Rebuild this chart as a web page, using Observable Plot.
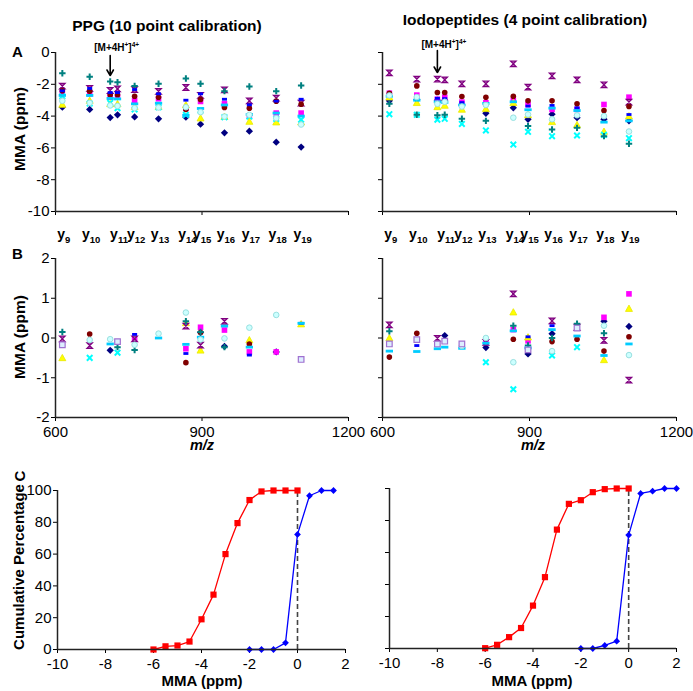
<!DOCTYPE html>
<html><head><meta charset="utf-8">
<script src="https://cdn.jsdelivr.net/npm/d3@7"></script>
<script src="https://cdn.jsdelivr.net/npm/@observablehq/plot@0.6"></script>
<style>
body{margin:0;background:#fff;font-family:"Liberation Sans",Arial,sans-serif;}
#root{position:relative;width:693px;height:691px;overflow:hidden;background:#fff;}
#root svg{position:absolute;overflow:visible;}
</style></head><body><div id="root"></div>
<script>
// ---------- DATA ----------
// fragment m/z positions (column 3 = precursor [M+4H+]4+)
const mz = [614, 670, 712, 727, 762, 811, 867, 897, 946, 997, 1052, 1103];
const ionLabels = ["9","10","11","12","13","14","15","16","17","18","19"];
const ionColumns = [0, 1, 3, 4, 5, 6, 7, 8, 9, 10, 11];
const precursorMz = 712;
const titles = ["PPG (10 point calibration)", "Iodopeptides (4 point calibration)"];

// series order: navy diamond, magenta square, yellow triangle, cyan x, purple star,
// dark red circle, teal plus, blue dash, sky dash, light turquoise circle, lavender open square
const ppgAbsolute = [
  [-3.44,-3.58,-4.09,-3.92,-4.05,-4.17,-4.07,-4.51,-5.05,-4.95,-5.64,-5.95],
  [-2.56,-2.6,-2.81,-2.81,-3.02,-2.91,-3.5,-3.08,-3.23,-3.98,-3.81,-3.81],
  [-3.27,-3.02,-3.23,-3.23,-3.4,-3.4,-3.3,-4.13,-4.03,-4.34,-4.38,-4.38],
  [-2.75,-3.21,-3.17,-3.5,-3.58,-3.45,-3.92,-3.65,-4.07,-4.03,-4.17,-4.23],
  [-2.12,-2.26,-2.39,-2.29,-2.33,-2.45,-2.2,-2.7,-2.35,-3.04,-2.87,-3.19],
  [-2.41,-2.43,-2.66,-2.66,-2.75,-2.81,-3.58,-2.96,-3.46,-3.5,-3.06,-3.25],
  [-1.3,-1.53,-1.82,-1.87,-2.1,-1.97,-1.64,-1.97,-2.43,-2.14,-2.43,-2.08],
  [-2.41,-2.26,-2.52,-2.52,-2.33,-2.6,-3.0,-2.6,-2.94,-3.29,-3.06,-2.94],
  [-2.7,-2.7,-2.89,-2.92,-3.23,-3.19,-3.95,-3.52,-3.3,-3.9,-3.81,-4.0],
  [-3.04,-3.17,-3.33,-3.36,-3.5,-3.46,-3.44,-3.75,-4.03,-3.92,-4.13,-4.53],
  [null,null,null,null,null,null,null,null,null,null,null,null]
];
const iodoAbsolute = [
  [-3.04,-2.95,-3.0,-3.0,-3.3,-3.82,-3.48,-4.2,-3.88,-4.1,-4.2,-4.3],
  [-2.56,-2.68,-2.94,-2.81,-3.12,-3.16,-3.0,-3.27,-3.58,-3.58,-3.27,-2.81],
  [-2.81,-3.16,-3.42,-3.33,-3.58,-3.54,-3.16,-3.92,-4.36,-4.55,-4.97,-4.0],
  [-3.88,-3.92,-4.23,-4.17,-4.49,-4.9,-5.79,-4.99,-5.26,-5.22,-5.18,-5.39],
  [-1.28,-1.68,-1.68,-1.72,-1.97,-1.97,-0.71,-2.18,-1.47,-1.72,-2.03,-3.12],
  [-2.56,-2.1,-2.52,-2.52,-2.77,-2.81,-2.75,-3.04,-3.04,-3.23,-3.65,-3.4],
  [-3.23,-3.92,-3.95,-3.92,-4.17,-4.3,null,-4.63,-4.84,-4.74,-5.26,-5.74],
  [-2.65,-2.9,-2.88,-2.9,-3.15,-3.2,null,-3.37,-3.33,-3.48,null,-3.9],
  [-2.75,-3.0,-3.1,-3.14,-3.3,-3.2,-3.1,-3.6,-3.5,-3.65,-4.38,-4.3],
  [-2.7,-2.8,-3.23,-3.1,-3.4,-3.3,-4.1,-3.9,-4.2,-3.95,-4.0,-4.97],
  [null,null,null,null,null,null,null,null,null,null,null,null]
];
const ppgRecalibrated = [
  [null,null,-0.31,null,null,null,null,0.14,-0.21,null,-0.35,null],
  [null,null,null,null,-0.02,null,-0.27,0.27,0.2,-0.35,-0.35,null],
  [-0.5,null,null,null,null,null,0.38,-0.31,null,-0.05,null,0.35],
  [null,-0.5,null,-0.37,null,null,null,null,null,null,null,null],
  [-0.02,-0.19,null,null,-0.02,null,0.3,-0.18,0.42,null,null,null],
  [null,0.1,null,null,null,null,-0.62,0.14,null,-0.15,null,null],
  [0.15,null,null,-0.23,-0.3,null,0.42,0.15,-0.23,null,null,null],
  [null,null,null,null,0.09,null,-0.39,null,null,-0.43,null,0.37],
  [null,null,-0.15,null,null,0.0,-0.16,0.02,0.3,-0.23,null,0.37],
  [null,-0.05,-0.03,null,-0.17,0.11,0.64,-0.04,-0.01,0.26,0.58,null],
  [-0.17,null,null,-0.09,null,null,null,null,null,null,null,-0.54]
];
const iodoRecalibrated = [
  [null,null,null,0.06,null,-0.24,null,-0.4,0.11,null,0.42,0.29],
  [null,null,null,null,null,-0.11,0.21,-0.07,null,null,0.52,1.11],
  [0.0,null,null,null,null,null,0.65,0.02,null,null,-0.55,0.74],
  [null,null,null,null,null,-0.61,-1.29,null,-0.44,-0.23,null,null],
  [0.33,null,-0.01,null,null,-0.11,1.11,null,0.43,0.27,-0.06,-1.06],
  [-0.48,0.12,null,null,null,null,-0.03,null,-0.09,-0.03,-0.33,0.03],
  [0.17,null,null,null,null,null,0.31,-0.19,0.0,0.36,0.12,null],
  [null,-0.19,null,null,null,null,null,0.03,0.31,null,null,null],
  [-0.33,-0.34,-0.27,-0.23,-0.26,-0.13,0.18,-0.25,0.21,0.05,-0.44,-0.15],
  [null,null,null,null,-0.2,0.0,-0.61,null,-0.33,null,0.31,-0.43],
  [-0.15,-0.04,-0.15,-0.08,-0.15,null,null,-0.3,null,0.25,null,null]
];

// cumulative distributions (panel C)
const redMMA = [-6,-5.5,-5,-4.5,-4,-3.5,-3,-2.5,-2,-1.5,-1,-0.5,0];
const ppgRedCum = [0,2,2.5,5,19,34.5,60,79.5,94,99.4,100,100,100];
const ppgBlueMMA = [-2,-1.5,-1,-0.5,0,0.5,1,1.5];
const ppgBlueCum = [0,0,0,4.2,72.4,96.7,100,100];
const iodoRedCum = [0.2,2.3,7.1,12.8,26.8,44.6,74.3,90.4,92.7,97.7,99.6,100,100];
const iodoBlueMMA = [-2,-1.5,-1,-0.5,0,0.5,1,1.5,2];
const iodoBlueCum = [0,0,1.9,4.6,70.9,96.9,98.3,100,100];

// precursor arrow (top, tip) and label level, in ppm
const arrowPPG = [-0.19, -1.45, 0.06];
const arrowIodo = [0.13, -1.26, 0.25];

// ---------- STYLES ----------
const rad = s => Math.sqrt(s / Math.PI);
const sym = {
  diamond:{draw(c,s){const r=rad(s)*1.3;c.moveTo(0,-r);c.lineTo(r,0);c.lineTo(0,r);c.lineTo(-r,0);c.closePath();}},
  square:{draw(c,s){const r=rad(s);c.rect(-r,-r,2*r,2*r);}},
  triangle:{draw(c,s){const r=rad(s)*1.25;c.moveTo(0,-r);c.lineTo(r,r*0.8);c.lineTo(-r,r*0.8);c.closePath();}},
  times:{draw(c,s){const r=rad(s);c.moveTo(-r,-r);c.lineTo(r,r);c.moveTo(r,-r);c.lineTo(-r,r);}},
  star:{draw(c,s){const r=rad(s);c.moveTo(-r,-r);c.lineTo(r,-r);c.lineTo(-r,r);c.lineTo(r,r);c.closePath();}},
  circle:{draw(c,s){const r=rad(s);c.moveTo(r,0);c.arc(0,0,r,0,2*Math.PI);}},
  plus:{draw(c,s){const r=rad(s)*1.15;c.moveTo(-r,0);c.lineTo(r,0);c.moveTo(0,-r);c.lineTo(0,r);}},
  dash:{draw(c,s){const r=rad(s);c.rect(-r*0.9,-r*0.5,1.8*r,r);}},
  longDash:{draw(c,s){const r=rad(s);c.rect(-r*1.3,-r*0.5,2.6*r,r);}}
};
const seriesStyles = [
  {symbol:sym.diamond, fill:"#000080", stroke:"none"},
  {symbol:sym.square, fill:"#FF00FF", stroke:"none"},
  {symbol:sym.triangle, fill:"#FFFF00", stroke:"#E8E800", strokeWidth:0.8},
  {symbol:sym.times, fill:"none", stroke:"#00FFFF", strokeWidth:2},
  {symbol:sym.star, fill:"#B060B0", stroke:"#800080", strokeWidth:1.2},
  {symbol:sym.circle, fill:"#800000", stroke:"none"},
  {symbol:sym.plus, fill:"none", stroke:"#008080", strokeWidth:2},
  {symbol:sym.dash, fill:"#0000FF", stroke:"none"},
  {symbol:sym.longDash, fill:"#00CCFF", stroke:"none"},
  {symbol:sym.circle, fill:"#CCFFFF", stroke:"#99E0E0", strokeWidth:1},
  {symbol:sym.square, fill:"#DDEEFF", stroke:"#A070D0", strokeWidth:1.2}
];
const axisColor = "#222";
const FONT = '"Liberation Sans", Arial, sans-serif';

// ---------- BUILD ----------
const root = document.getElementById("root");

function panel(o) {
  const chart = Plot.plot({
    width:o.width, height:o.height,
    marginTop:o.mt, marginRight:o.mr, marginBottom:o.mb, marginLeft:o.ml,
    style:{background:"transparent", fontFamily:FONT, fontSize:"15px", color:"#000", overflow:"visible"},
    x:{domain:o.xdom, ticks:o.xticks, tickSize:4, tickPadding:5, label:null,
       tickFormat:o.xlabels ? (d => String(d)) : (() => "")},
    y:{domain:o.ydom, ticks:o.yticks, tickSize:4, tickPadding:2, label:null,
       tickFormat:o.ylabels ? (d => String(d)) : (() => "")},
    marks:[
      ...o.marks,
      Plot.ruleX([o.xdom[0]], {stroke:axisColor, strokeWidth:1.5}),
      Plot.ruleY([o.ydom[0]], {stroke:axisColor, strokeWidth:1.5})
    ]
  });
  chart.style.left = o.left + "px";
  chart.style.top = o.top + "px";
  root.appendChild(chart);
  return chart;
}

function scatterMarks(table) {
  return table.map((vals, si) => {
    const rows = vals.map((v, ci) => ({mz:mz[ci], v})).filter(d => d.v != null);
    return Plot.dot(rows, {x:"mz", y:"v", r:2.8, ...seriesStyles[si]});
  });
}

function arrowMarks(a) {
  return [Plot.arrow([{x:precursorMz, y1:a[0], y2:a[1]}],
    {x1:"x", x2:"x", y1:"y1", y2:"y2", stroke:"#000", strokeWidth:1.6, headLength:6})];
}

const mzDom = [600, 1200], mzTicks = [600, 900, 1200];
const geoL = {left:0, width:352, ml:55, mr:4};
const geoR = {left:330, width:363, ml:52, mr:17};

const aL = panel({...geoL, top:0, height:230, mt:52, mb:19, xdom:mzDom, xticks:mzTicks, xlabels:false,
  ydom:[-10,0], yticks:[0,-2,-4,-6,-8,-10], ylabels:true,
  marks:[...scatterMarks(ppgAbsolute), ...arrowMarks(arrowPPG)]});
const aR = panel({...geoR, top:0, height:230, mt:52, mb:19, xdom:mzDom, xticks:mzTicks, xlabels:false,
  ydom:[-10,0], yticks:[0,-2,-4,-6,-8,-10], ylabels:false,
  marks:[...scatterMarks(iodoAbsolute), ...arrowMarks(arrowIodo)]});
const bL = panel({...geoL, top:230, height:230, mt:28, mb:43, xdom:mzDom, xticks:mzTicks, xlabels:true,
  ydom:[-2,2], yticks:[2,1,0,-1,-2], ylabels:true, marks:scatterMarks(ppgRecalibrated)});
const bR = panel({...geoR, top:230, height:230, mt:28, mb:43, xdom:mzDom, xticks:mzTicks, xlabels:true,
  ydom:[-2,2], yticks:[2,1,0,-1,-2], ylabels:false, marks:scatterMarks(iodoRecalibrated)});

function cumMarks(redY, blueX, blueY) {
  const red = redMMA.map((x, i) => ({x, y:redY[i]}));
  const blue = blueX.map((x, i) => ({x, y:blueY[i]}));
  return [
    Plot.ruleX([0], {y1:0, y2:100, stroke:"#444", strokeWidth:1.6, strokeDasharray:"5,3"}),
    Plot.line(red, {x:"x", y:"y", stroke:"#FF0000", strokeWidth:1.3}),
    Plot.dot(red, {x:"x", y:"y", r:3.1, symbol:sym.square, fill:"#FF0000", stroke:"none"}),
    Plot.line(blue, {x:"x", y:"y", stroke:"#0000FF", strokeWidth:1.3}),
    Plot.dot(blue, {x:"x", y:"y", r:2.6, symbol:sym.diamond, fill:"#0000FF", stroke:"none"})
  ];
}
const mmaDom = [-10, 2], mmaTicks = [-10,-8,-6,-4,-2,0,2];
const cL = panel({left:0, width:352, ml:57, mr:7, top:460, height:231, mt:30, mb:42,
  xdom:mmaDom, xticks:mmaTicks, xlabels:true, ydom:[0,100], yticks:[0,20,40,60,80,100], ylabels:true,
  marks:cumMarks(ppgRedCum, ppgBlueMMA, ppgBlueCum)});
const cR = panel({left:330, width:363, ml:59, mr:17, top:460, height:231, mt:28, mb:43,
  xdom:mmaDom, xticks:mmaTicks, xlabels:true, ydom:[0,100], yticks:[0,20,40,60,80,100], ylabels:false,
  marks:cumMarks(iodoRedCum, iodoBlueMMA, iodoBlueCum)});

// ---------- TEXT OVERLAY ----------
const ov = d3.select(root).append("svg").attr("width",693).attr("height",691)
  .style("left","0px").style("top","0px").style("pointer-events","none")
  .attr("font-family", FONT).attr("font-weight","bold").attr("fill","#000");

ov.append("text").attr("x",167).attr("y",31).attr("text-anchor","middle").attr("font-size",15.5).text(titles[0]);
ov.append("text").attr("x",525).attr("y",25).attr("text-anchor","middle").attr("font-size",15.5).text(titles[1]);
ov.append("text").attr("x",12).attr("y",57).attr("font-size",15).text("A");
ov.append("text").attr("x",12).attr("y",259).attr("font-size",15).text("B");
ov.append("text").attr("transform","translate(25,476) rotate(-90)").attr("text-anchor","middle").attr("font-size",15).text("C");

function vlabel(x, y, t, fs) {
  ov.append("text").attr("transform",`translate(${x},${y}) rotate(-90)`).attr("text-anchor","middle").attr("font-size",fs).text(t);
}
vlabel(25, 129, "MMA (ppm)", 15.5);
vlabel(25, 337, "MMA (ppm)", 15.5);
vlabel(24, 567, "Cumulative Percentage", 15);

[202, 532].forEach(x => {
  ov.append("text").attr("x",x).attr("y",686).attr("text-anchor","middle").attr("font-size",15).text("MMA (ppm)");
});
[202, 533].forEach(x => {
  ov.append("text").attr("x",x).attr("y",450).attr("text-anchor","middle").attr("font-size",14.5)
    .attr("font-style","italic").text("m/z");
});

// ion labels y9..y19 via the panels' x scales
[[aL, 0], [aR, 330]].forEach(([chart, off]) => {
  const sx = chart.scale("x");
  ionLabels.forEach((lab, i) => {
    const x = off + sx.apply(mz[ionColumns[i]]) + 2;
    const t = ov.append("text").attr("x",x).attr("y",239).attr("text-anchor","middle").attr("font-size",14);
    t.append("tspan").text("y");
    t.append("tspan").attr("font-size",9.5).attr("dy",4).text(lab);
  });
});

// precursor labels via scales
[[aL, 0, arrowPPG], [aR, 330, arrowIodo]].forEach(([chart, off, a]) => {
  const sx = chart.scale("x"), sy = chart.scale("y");
  const t = ov.append("text").attr("x", off + sx.apply(precursorMz) + 7).attr("y", sy.apply(a[2]))
    .attr("text-anchor","middle").attr("font-size",10);
  t.append("tspan").text("[M+4H");
  t.append("tspan").attr("font-size",6.5).attr("dy",-4).text("+");
  t.append("tspan").attr("dy",4).text("]");
  t.append("tspan").attr("font-size",6.5).attr("dy",-4).text("4+");
});
</script></body></html>
